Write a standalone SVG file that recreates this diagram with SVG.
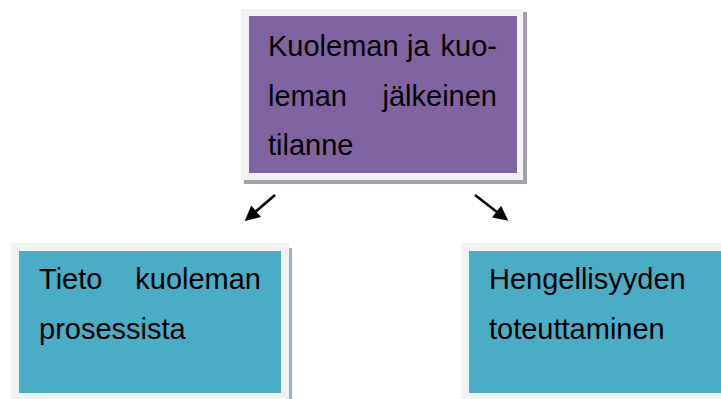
<svg xmlns="http://www.w3.org/2000/svg" width="721" height="399" viewBox="0 0 721 399">
<style>
.frame{fill:#F2F2F2}
.shadowP{fill:#A59FAE}
.shadowB{fill:#97B3BE}
.purple{fill:#8064A2}
.blue{fill:#4BACC6}
text{font-family:"Liberation Sans",Arial,sans-serif;font-size:29px;fill:#000}
.conn{stroke:#000;stroke-width:2.5;fill:none}
</style>
<defs>
<marker id="ah" viewBox="0 0 10 10" refX="8" refY="5" markerWidth="6.5" markerHeight="6" orient="auto" markerUnits="strokeWidth">
<path d="M0,0 L10,5 L0,10 z" fill="#000"/>
</marker>
</defs>
<rect width="721" height="399" fill="#fff"/>
<g id="node-top">
<rect class="shadowP" x="244" y="12" width="283" height="172"/>
<rect class="frame" x="241" y="9" width="282" height="171"/>
<rect class="purple" x="249" y="16" width="268" height="157"/>
<text x="268" y="56">Kuoleman</text>
<text x="407" y="56">ja</text>
<text x="497" y="56" text-anchor="end">kuo-</text>
<text x="268" y="106">leman</text>
<text x="497" y="106" text-anchor="end">jälkeinen</text>
<text x="268" y="155">tilanne</text>
</g>
<g id="node-left">
<rect class="shadowB" x="289" y="248" width="3" height="151"/>
<rect class="frame" x="11" y="243" width="278" height="156"/>
<rect class="blue" x="19" y="251" width="262" height="142"/>
<text x="39" y="289">Tieto</text>
<text x="261" y="289" text-anchor="end">kuoleman</text>
<text x="39" y="339">prosessista</text>
</g>
<g id="node-right">
<rect class="frame" x="461" y="243" width="260" height="156"/>
<rect class="blue" x="469" y="251" width="252" height="142"/>
<text x="489" y="289">Hengellisyyden</text>
<text x="489" y="339">toteuttaminen</text>
</g>
<g id="connectors">
<line class="conn" x1="275" y1="195" x2="247" y2="219" marker-end="url(#ah)"/>
<line class="conn" x1="475" y1="195" x2="506" y2="219" marker-end="url(#ah)"/>
</g>
</svg>
